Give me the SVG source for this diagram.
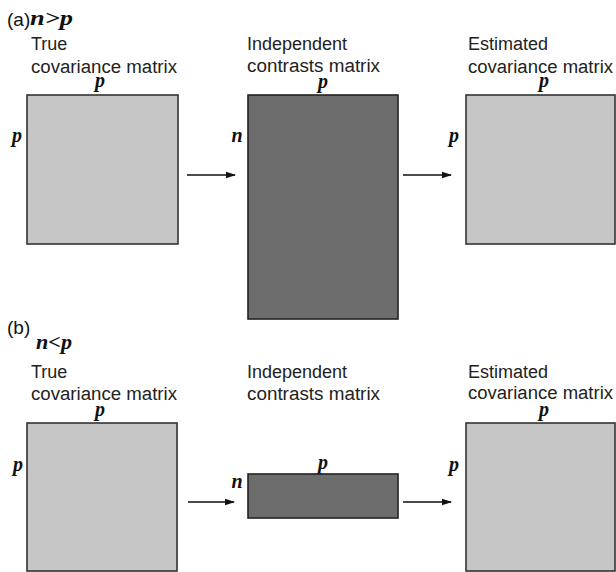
<svg xmlns="http://www.w3.org/2000/svg" width="616" height="572" viewBox="0 0 616 572">
<defs>
<marker id="ah" markerWidth="10" markerHeight="8" refX="9" refY="4" orient="auto" markerUnits="userSpaceOnUse">
<path d="M0,0.8 L10,4 L0,7.2 Z" fill="#111"/>
</marker>
</defs>
<style>
.lt{fill:#c6c6c6;stroke:#333;stroke-width:1.6}
.dk{fill:#6d6d6d;stroke:#222;stroke-width:1.6}
.t{font-family:"Liberation Sans",Arial,sans-serif;font-size:18px;fill:#222}
.h{font-family:"Liberation Sans",Arial,sans-serif;font-size:19px;fill:#111}
.v{font-family:"Liberation Serif","Times New Roman",serif;font-size:20px;font-weight:bold;font-style:italic;fill:#111}
.c{stroke:#111;stroke-width:1.4;fill:none}
</style>
<rect width="616" height="572" fill="#fff"/>

<g id="panel-a-title">
<text class="h" x="7" y="26">(a)</text>
<text class="v" x="30" y="25" font-size="21" textLength="43" lengthAdjust="spacingAndGlyphs">n&gt;p</text>
</g>

<g id="a-true">
<text class="t" x="31" y="50">True</text>
<text class="t" x="31" y="73" textLength="146" lengthAdjust="spacingAndGlyphs">covariance matrix</text>
<text class="v" x="100" y="87" text-anchor="middle">p</text>
<text class="v" x="17" y="142" text-anchor="middle">p</text>
<rect class="lt" x="27" y="95" width="151" height="149"/>
</g>

<g id="a-contrasts">
<text class="t" x="247" y="50">Independent</text>
<text class="t" x="247" y="72" textLength="133" lengthAdjust="spacingAndGlyphs">contrasts matrix</text>
<text class="v" x="323" y="88" text-anchor="middle">p</text>
<text class="v" x="237" y="142" text-anchor="middle">n</text>
<rect class="dk" x="248" y="95" width="150" height="224"/>
</g>

<g id="a-estimated">
<text class="t" x="468" y="50">Estimated</text>
<text class="t" x="468" y="73" textLength="145" lengthAdjust="spacingAndGlyphs">covariance matrix</text>
<text class="v" x="544" y="87" text-anchor="middle">p</text>
<text class="v" x="454" y="142" text-anchor="middle">p</text>
<rect class="lt" x="466" y="95" width="149" height="149"/>
</g>

<g id="panel-b-title">
<text class="h" x="7" y="334">(b)</text>
<text class="v" x="36" y="349" font-size="21" textLength="36" lengthAdjust="spacingAndGlyphs">n&lt;p</text>
</g>

<g id="b-true">
<text class="t" x="31" y="378">True</text>
<text class="t" x="31" y="400" textLength="146" lengthAdjust="spacingAndGlyphs">covariance matrix</text>
<text class="v" x="100" y="416" text-anchor="middle">p</text>
<text class="v" x="18" y="471" text-anchor="middle">p</text>
<rect class="lt" x="27" y="423" width="150" height="148"/>
</g>

<g id="b-contrasts">
<text class="t" x="247" y="378">Independent</text>
<text class="t" x="247" y="400" textLength="133" lengthAdjust="spacingAndGlyphs">contrasts matrix</text>
<text class="v" x="323" y="469" text-anchor="middle">p</text>
<text class="v" x="237" y="488" text-anchor="middle">n</text>
<rect class="dk" x="248" y="474" width="150" height="44"/>
</g>

<g id="b-estimated">
<text class="t" x="468" y="378">Estimated</text>
<text class="t" x="468" y="399" textLength="145" lengthAdjust="spacingAndGlyphs">covariance matrix</text>
<text class="v" x="544" y="416" text-anchor="middle">p</text>
<text class="v" x="454" y="471" text-anchor="middle">p</text>
<rect class="lt" x="466" y="423" width="149" height="148"/>
</g>

<g id="connectors">
<line class="c" x1="187" y1="175" x2="235" y2="175" marker-end="url(#ah)"/>
<line class="c" x1="403" y1="175" x2="451" y2="175" marker-end="url(#ah)"/>
<line class="c" x1="188" y1="502" x2="234" y2="502" marker-end="url(#ah)"/>
<line class="c" x1="403" y1="502" x2="451" y2="502" marker-end="url(#ah)"/>
</g>
</svg>
